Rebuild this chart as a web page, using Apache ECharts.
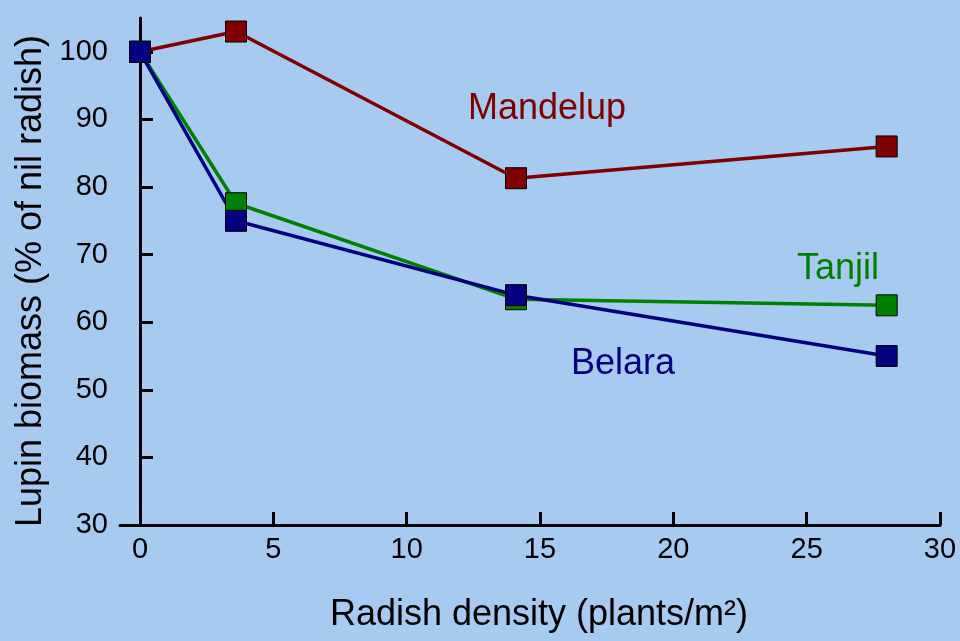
<!DOCTYPE html>
<html>
<head>
<meta charset="utf-8">
<script src="https://cdn.jsdelivr.net/npm/echarts@6/dist/echarts.min.js"></script>
<style>
html,body{margin:0;padding:0;background:#A6CAF0;}
#chart{width:960px;height:641px;}
</style>
</head>
<body>
<div id="chart"></div>
<script>
// Data
var density = [0, 3.6, 14.1, 28];
var mandelup = [100, 103, 81.3, 86];
var tanjil = [100, 77.6, 63.4, 62.5];
var belara = [100, 75, 64, 55];
var xTicks = [0, 5, 10, 15, 20, 25, 30];
var yTicks = [30, 40, 50, 60, 70, 80, 90, 100];

function pairs(xs, ys) { return xs.map(function (x, i) { return [x, ys[i]]; }); }

var font = '"Liberation Sans", Arial, sans-serif';
var chart = echarts.init(document.getElementById('chart'), null, {renderer: 'canvas'});

function mkSeries(name, vals, color) {
  return {
    name: name, type: 'line', data: pairs(density, vals),
    symbol: 'rect', symbolSize: 21,
    lineStyle: {color: color, width: 3.5},
    itemStyle: {color: color, borderColor: '#000', borderWidth: 1},
    emphasis: {disabled: true},
    z: 3
  };
}

chart.setOption({
  animation: false,
  backgroundColor: '#A6CAF0',
  grid: {left: 120, right: 20, top: 18, bottom: 116, containLabel: false},
  xAxis: {
    type: 'value', min: -0.75, max: 30,
    name: 'Radish density (plants/m²)', nameLocation: 'middle', nameGap: 72,
    nameTextStyle: {fontFamily: font, fontSize: 36, color: '#000', padding: [0, 0, 0, 18]},
    axisLine: {show: true, lineStyle: {color: '#000', width: 3}},
    axisTick: {show: true, inside: true, length: 13, lineStyle: {color: '#000', width: 3}, customValues: xTicks},
    axisLabel: {fontFamily: font, fontSize: 29, color: '#000', margin: 10, customValues: xTicks},
    splitLine: {show: false}
  },
  yAxis: {
    type: 'value', min: 30, max: 105,
    name: 'Lupin biomass (% of nil radish)', nameLocation: 'middle', nameGap: 64, nameRotate: 90,
    nameTextStyle: {fontFamily: font, fontSize: 36, color: '#000', padding: [0, 19, 0, 0]},
    axisLine: {show: true, lineStyle: {color: '#000', width: 3}},
    axisTick: {show: true, inside: true, length: 13, lineStyle: {color: '#000', width: 3}, customValues: yTicks},
    axisLabel: {fontFamily: font, fontSize: 29, color: '#000', margin: 12, customValues: yTicks},
    splitLine: {show: false}
  },
  series: [
    mkSeries('Mandelup', mandelup, '#800000'),
    mkSeries('Tanjil', tanjil, '#008000'),
    mkSeries('Belara', belara, '#000080')
  ],
  graphic: [
    {type: 'text', x: 468, y: 109, style: {text: 'Mandelup', font: '36px ' + font, fill: '#800000', textAlign: 'left', textVerticalAlign: 'middle'}},
    {type: 'text', x: 797, y: 269, style: {text: 'Tanjil', font: '36px ' + font, fill: '#008000', textAlign: 'left', textVerticalAlign: 'middle'}},
    {type: 'text', x: 571, y: 364, style: {text: 'Belara', font: '36px ' + font, fill: '#000080', textAlign: 'left', textVerticalAlign: 'middle'}}
  ]
});
</script>
</body>
</html>
